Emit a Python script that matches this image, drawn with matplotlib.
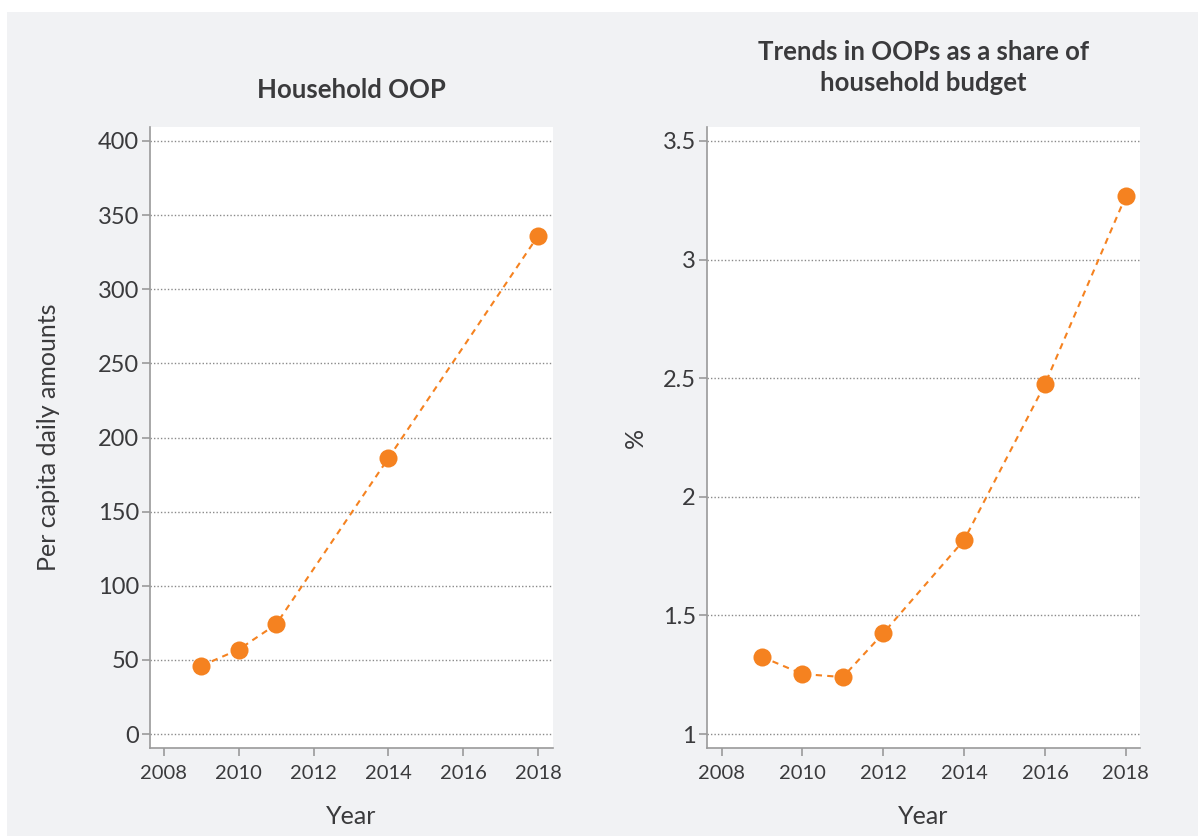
import numpy as np
import matplotlib.pyplot as plt

# ---------------------------------------------------------
# DATA
# ---------------------------------------------------------

years_oop = [2009, 2010, 2011, 2014, 2018]
oop_amounts = [46, 57, 74, 186, 336]

years_share = [2009, 2010, 2011, 2012, 2014, 2016, 2018]
oop_share = [1.325, 1.253, 1.24, 1.425, 1.818, 2.475, 3.268]

x_ticks = [2008, 2010, 2012, 2014, 2016, 2018]
left_yticks = [0, 50, 100, 150, 200, 250, 300, 350, 400]
right_yticks = [1, 1.5, 2, 2.5, 3, 3.5]
right_ylabels = ["1", "1.5", "2", "2.5", "3", "3.5"]

# ---------------------------------------------------------
# STYLE
# ---------------------------------------------------------

ORANGE = "#f58220"
TEXT = "#3a3a3c"
PANEL = "#f1f2f4"
SPINE = "#9a9a9a"

plt.rcParams["font.family"] = ["Lato", "DejaVu Sans"]

fig = plt.figure(figsize=(11.98, 8.36), dpi=100)
fig.patch.set_facecolor("white")
# gray panel behind everything
fig.patches.append(plt.Rectangle((7 / 1198, 0), 1, 1 - 12 / 836,
                                 transform=fig.transFigure,
                                 facecolor=PANEL, edgecolor="none", zorder=-10))

ax1 = fig.add_axes([150 / 1198, 88 / 836, 403 / 1198, 621 / 836])
ax2 = fig.add_axes([707 / 1198, 88 / 836, 433 / 1198, 621 / 836])


def style_axes(ax):
    ax.set_facecolor("white")
    for side in ["top", "right"]:
        ax.spines[side].set_visible(False)
    for side in ["left", "bottom"]:
        ax.spines[side].set_color(SPINE)
        ax.spines[side].set_linewidth(1.2)
    ax.tick_params(axis="both", colors=SPINE, length=6, width=1.2)
    ax.tick_params(axis="y", labelcolor=TEXT, labelsize=17, pad=2)
    ax.tick_params(axis="x", labelcolor=TEXT, labelsize=14.5, pad=6)
    ax.yaxis.grid(True, linestyle=(0, (1, 1.5)), color="#8a8a8a", linewidth=1)
    ax.set_axisbelow(True)
    ax.set_xlabel("Year", fontsize=18, color=TEXT, labelpad=17)


# ---------------------------------------------------------
# LEFT: Household OOP
# ---------------------------------------------------------

ax1.plot(years_oop, oop_amounts, linestyle=(0, (3, 2.5)), color=ORANGE,
         linewidth=1.5, marker="o", markersize=13, markeredgewidth=0, zorder=3)
ax1.set_xlim(2007.63, 2018.4)
ax1.set_ylim(-9.4, 409.4)
ax1.set_xticks(x_ticks)
ax1.set_yticks(left_yticks)
style_axes(ax1)
ax1.set_ylabel("Per capita daily amounts", fontsize=18, color=TEXT)
ax1.yaxis.set_label_coords(-90 / 403, 0.5)
ax1.set_title("Household OOP", fontsize=18.5, fontweight="bold", color=TEXT, pad=21)

# ---------------------------------------------------------
# RIGHT: OOP share of household budget
# ---------------------------------------------------------

ax2.plot(years_share, oop_share, linestyle=(0, (3, 2.5)), color=ORANGE,
         linewidth=1.5, marker="o", markersize=13, markeredgewidth=0, zorder=3)
ax2.set_xlim(2007.64, 2018.35)
ax2.set_ylim(0.941, 3.559)
ax2.set_xticks(x_ticks)
ax2.set_yticks(right_yticks)
ax2.set_yticklabels(right_ylabels)
style_axes(ax2)
ax2.set_ylabel("%", fontsize=18, color=TEXT)
ax2.yaxis.set_label_coords(-60 / 433, 0.5)
ax2.set_title("Trends in OOPs as a share of\nhousehold budget", fontsize=18.5,
              fontweight="bold", color=TEXT, pad=26, linespacing=1.35)

fig.savefig("out.png", dpi=100, facecolor=fig.get_facecolor())
